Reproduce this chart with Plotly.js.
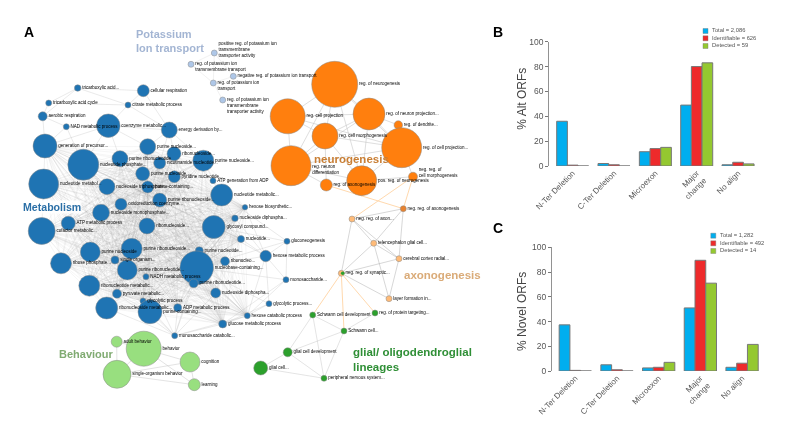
<!DOCTYPE html>
<html><head><meta charset="utf-8">
<script src="https://cdn.plot.ly/plotly-3.0.1.min.js"></script>
<style>html,body{margin:0;padding:0;background:#fff}#g{width:800px;height:432px;filter:blur(0.3px)}</style>
</head><body><div id="g"></div>
<script>
// ---------- bar charts ----------
const categories = ['N-Ter Deletion','C-Ter Deletion','Microexon','Major<br>change','No align'];
const altTotal = [36,2,11.5,49,1];
const altIdentifiable = [0.7,1,14,80,3];
const altDetected = [0,0,15,83,1.7];
const novelTotal = [37.3,5,2.5,51,3];
const novelIdentifiable = [0.5,1,3,89.5,6.3];
const novelDetected = [0,0,7,71,21.5];
const altLegend = ['Total = 2,086','Identifiable = 626','Detected = 59'];
const novelLegend = ['Total = 1,282','Identifiable = 492','Detected = 14'];
const yTicks = [0,20,40,60,80,100];
const barColors = ['#00AEEF','#EE2A2B','#94C830'];

// ---------- network nodes (position, diameter) ----------
const metaLabels = ['tricarboxylic acid...','cellular respiration','tricarboxylic acid cycle','citrate metabolic process','aerobic respiration','NAD metabolic process','coenzyme metabolic...','energy derivation by...','generation of precursor...','nucleotide phosphate...','purine nucleoside...','purine ribonucleotide','ribonucleoside...','nicotinamide nucleotide...','purine nucleoside...','nucleotide metabol...','purine nucleoside...','pyridine nucleotide...','ATP generation from ADP','nucleoside triphosphate...','purine-containing...','nucleotide metabolic...','purine ribonucleoside...','oxidoreduction coenzyme...','nucleoside monophosphate...','cofactor metabolic...','ATP metabolic process','ribonucleoside...','glycosyl compound...','nucleotide...','nucleoside diphospha...','hexose biosynthetic...','purine nucleoside','purine ribonucleoside...','purine nucleotide...','single organism...','ribose phosphate...','purine ribonucleotide...','nucleobase-containing...','ribonucleo...','NADH metabolic process','purine ribonucleotide...','ribonucleotide metabolic...','pyruvate metabolic...','nucleoside diphospha...','glycolytic process','ribonucleoside metabolic...','purine-containing...','ADP metabolic process','hexose catabolic process','glucose metabolic process','monosaccharide catabolic...','gluconeogenesis','hexose metabolic process','monosaccharide...','glycolytic process...'];
const metaX = [77.7,143.3,48.7,128,42.7,66.3,108.3,169.3,45,83.3,147.7,120,174,159.7,203.3,43.7,142.7,174.3,213,107,147.7,221.7,159.7,121,101,41.7,68.3,147,213.7,241,235,245,90.3,131.7,199.3,115,61,127.3,196.7,225,146,193.7,89.3,117,215.7,143,106.7,150,177.7,247.3,222.7,174.7,287,265.7,286,269];
const metaY = [88,90.7,103,105,116.3,126.7,125.7,130,146,164.7,146.7,158.7,153.7,163,160.7,184,173.7,176.7,180.7,186.7,187,195,200,204.3,212.7,231,223.3,226,227,239,218.3,207.3,252,248.7,250.7,260,263.3,270,267.7,261.3,276.7,283.3,285.7,293.7,293,301,308,311.7,307.7,315.7,324,335.7,241.3,256,279.7,303.7];
const metaD = [6.5,12,6,6,9,6,23.5,16,24,31,16,16,14,12,21,30,14,12,6,16,12,22,14,12,17,27,14,16,23,7,6.5,5.5,20,21,8,8,21,20,33.5,9,6,9,21,9,10,6,22,24,8,6,8,6,6,11.5,6,6];
const behavLabels = ['adult behavior','behavior','cognition','single-organism behavior','learning'];
const behavX = [116.7,143.7,190,117,194.3];
const behavY = [341.7,348.7,362,374.3,384.7];
const behavD = [11,35,20,28,12];
const potLabels = ['positive reg. of potassium ion<br>transmembrane<br>transporter activity','reg. of potassium ion<br>transmembrane transport','negative reg. of potassium ion transport','reg. of potassium ion<br>transport','reg. of potassium ion<br>transmembrane<br>transporter activity'];
const potX = [214.3,191,233.3,213.3,222.7];
const potY = [53,64.3,76.3,83,100];
const potD = [6,6,6,6,6];
const potLabelShift = [-3,2.9,0,2.9,5.8];
const neuroLabels = ['reg. of neurogenesis','reg. cell projection','reg. of neuron projection...','reg. of dendrite...','reg. cell morphogenesis','reg. of cell projection...','reg. neuron<br>differentiation','pos. reg. of neurogenesis','reg. of axonogenesis','neg. reg. of<br>cell morphogenesis'];
const neuroX = [334.7,287.7,369,398.3,325,401.7,291,361.7,326.3,413];
const neuroY = [84.3,116.3,114,125,136,147.7,165.7,180.7,185,176.7];
const neuroD = [46,35,32,8.5,26,40,40,30,12,9];
const neuroLabelShift = [0,0,0,0,0,0,4,0,0,-4];
const axonLabels = ['neg. reg. of axonogenesis','neg. reg. of axon...','telencephalon glial cell...','cerebral cortex radial...','neg. reg. of synaptic...','layer formation in...'];
const axonX = [403.3,352,373.7,399,341.3,389];
const axonY = [208.7,219,243.3,258.7,273.3,298.7];
const axonD = [6,6,6,6,6,6];
const axonColors = ['#E8822E','#FFBB78','#FFBB78','#FFBB78','#FFBB78','#FFBB78'];
const glialLabels = ['reg. of protein targeting...','Schwann cell development','Schwann cell...','glial cell development','glial cell...','peripheral nervous system...'];
const glialX = [375,312.7,344,287.7,260.7,324];
const glialY = [313,315,331,352.3,368,378.3];
const glialD = [6,6,6,9,14,6];

// ---------- network links (pairs of node numbers) ----------
const metaLinks = [[0,1],[0,2],[0,3],[0,4],[1,3],[1,7],[2,3],[2,4],[3,7],[3,6],[4,5],[4,8],[5,6],[5,8],[5,9],[6,7],[6,8],[6,9],[6,10],[6,11],[7,10],[7,12],[7,14],[7,13],
 [51,47],[51,48],[51,50],[51,49],[51,45],[51,38],[51,43],[51,41],[51,44],[51,46],[51,40],
 [52,53],[52,54],[52,38],[52,28],[52,21],[53,54],[53,29],[53,28],[53,38],[53,49],[53,55],[54,38],[54,50],[54,49],[55,50],[55,49],[55,38],[31,53],[31,38],[31,28],[31,21],[30,38],[30,53],[29,38],[29,28],[49,38],[49,50],[50,38],[50,44]];
const coreStart = 8, coreEnd = 50;
const behavLinks = [[0,1],[0,3],[1,3],[1,2],[1,4],[3,2],[3,4],[2,4]];
const potLinks = [[0,1],[0,3],[1,3],[2,3],[3,4],[0,2]];
const neuroLinks = [[0,1],[0,2],[0,4],[0,5],[0,6],[1,2],[1,4],[1,6],[2,4],[2,3],[2,5],[3,5],[4,5],[4,6],[4,7],[4,8],[5,6],[5,7],[5,9],[6,7],[6,8],[7,8],[7,9],[1,5],[2,6],[2,7],[0,7]];
const axonLinks = [[0,1],[0,2],[0,3],[1,2],[1,4],[2,3],[2,4],[3,4],[3,5],[4,5],[1,3],[2,5]];
const glialLinks = [[0,2],[1,2],[1,3],[1,5],[2,3],[2,5],[3,4],[3,5],[4,5]];
const neuroToAxon = [[8,0],[9,0],[9,1]];
const axonToGlial = [[4,1],[4,2],[4,0]];

// ---------- text ----------
const clusterTitles = ['Potassium<br>Ion transport','Metabolism','neurogenesis','axonogenesis','glial/ oligodendroglial<br>lineages','Behaviour'];
const clusterX = [135,22,313,403,352,58];
const clusterY = [41,206.5,159,275,359,354];
const clusterSize = [11,10.6,11.5,11.5,11.5,11];
const clusterColors = ['#A3B5D3','#2B6FA6','#C97F35','#DAAB78','#2F8F36','#80AB72'];
const panelLetters = ['A','B','C'];
const panelX = [29,497.5,497.5];
const panelY = [32,31.7,227.7];
const axisTitles = ['% Alt ORFs','% Novel ORFs'];
const axisTitleX = [522,522];
const axisTitleY = [98.7,312];

const FONT = '"Liberation Sans", Arial, sans-serif';
const ov = {xaxis:'x3',yaxis:'y3',hoverinfo:'skip',showlegend:false,cliponaxis:false};
function edge(links,xa,ya,a0,xb,yb,color,w){
  const X=[],Y=[];
  links.forEach(l=>{X.push(xa[l[0]],xb[l[1]],null);Y.push(ya[l[0]],yb[l[1]],null);});
  return Object.assign({type:'scatter',mode:'lines',x:X,y:Y,line:{color:color,width:w}},ov);
}
function nodes(xs,ys,ds,color){
  return Object.assign({type:'scatter',mode:'markers',x:xs,y:ys,
    marker:{size:ds,color:color,line:{color:'#8a8a8a',width:0.5},opacity:1}},ov);
}
function labels(txt,xs,ys,ds,shift){
  return Object.assign({type:'scatter',mode:'text',x:xs.map((v,i)=>v+ds[i]/2+1.2),y:ys.map((v,i)=>v+(shift?shift[i]:0)),text:txt,textposition:'middle right',
    textfont:{family:FONT,size:4.5,color:'#000'}},ov);
}
const coreLinks=[];
for(let i=coreStart;i<=coreEnd;i++)for(let j=i+1;j<=coreEnd;j++){ if(i!==18&&j!==18) coreLinks.push([i,j]); }
const GL='rgba(190,190,190,0.55)', OR='#FFD9AE';

const data=[
 edge(coreLinks,metaX,metaY,0,metaX,metaY,'rgba(140,140,140,0.2)',0.4),
 edge(metaLinks,metaX,metaY,0,metaX,metaY,GL,0.6),
 edge(behavLinks,behavX,behavY,0,behavX,behavY,GL,0.8),
 edge(potLinks,potX,potY,0,potX,potY,'rgba(200,200,200,0.5)',0.5),
 edge(neuroLinks,neuroX,neuroY,0,neuroX,neuroY,'rgba(190,190,190,0.5)',1),
 edge(axonLinks,axonX,axonY,0,axonX,axonY,'rgba(170,170,170,0.6)',0.8),
 edge(glialLinks,glialX,glialY,0,glialX,glialY,'rgba(190,190,190,0.6)',0.7),
 edge(neuroToAxon,neuroX,neuroY,0,axonX,axonY,OR,1),
 edge(axonToGlial,axonX,axonY,0,glialX,glialY,OR,1),
 nodes(metaX,metaY,metaD,'#1F74B3'),
 nodes(behavX,behavY,behavD,'#98DF7F'),
 nodes(potX,potY,potD,'#AEC7E8'),
 nodes(neuroX,neuroY,neuroD,'#FF7F0E'),
 nodes(axonX,axonY,axonD,axonColors),
 nodes(glialX,glialY,glialD,'#2CA02C')
];
// green half of the shared node
data.push(Object.assign({type:'scatter',mode:'markers',x:[axonX[4]+1.4],y:[axonY[4]],marker:{size:3.6,color:'#2CA02C'}},ov));
data.push(labels(metaLabels,metaX,metaY,metaD),labels(behavLabels,behavX,behavY,behavD),labels(potLabels,potX,potY,potD,potLabelShift),
  labels(neuroLabels,neuroX,neuroY,neuroD,neuroLabelShift),labels(axonLabels,axonX,axonY,axonD),labels(glialLabels,glialX,glialY,glialD));

function bars(vals,name,i,xa,ya){
  return {type:'bar',x:categories.map((c,k)=>k),y:vals,name:name,xaxis:xa,yaxis:ya,
    marker:{color:barColors[i],line:{color:'#777',width:1}},hoverinfo:'skip',showlegend:false};
}
[[altTotal,altIdentifiable,altDetected],[novelTotal,novelIdentifiable,novelDetected]].forEach((g,p)=>{
  g.forEach((v,i)=>data.push(bars(v,(p?novelLegend:altLegend)[i],i,p?'x2':'x',p?'y2':'y')));
});
function legendMarks(txt,x,ys,tx){
  data.push(Object.assign({type:'scatter',mode:'markers',x:txt.map(()=>x),y:ys,
    marker:{symbol:'square',size:5,color:barColors,line:{color:'#777',width:0.4}}},ov));
  data.push(Object.assign({type:'scatter',mode:'text',x:txt.map(()=>tx),y:ys,text:txt,textposition:'middle right',
    textfont:{family:FONT,size:5.8,color:'#555'}},ov));
}
const altLegendX=705.5, altLegendTextX=712, altLegendY=[31,38.3,46], novelLegendX=713.3, novelLegendTextX=720, novelLegendY=[235.7,243.3,251];
legendMarks(altLegend,altLegendX,altLegendY,altLegendTextX);
legendMarks(novelLegend,novelLegendX,novelLegendY,novelLegendTextX);

const ann=[];
clusterTitles.forEach((t,i)=>ann.push({xref:'x3',yref:'y3',x:clusterX[i],y:clusterY[i],text:'<b>'+t+'</b>',showarrow:false,xanchor:'left',align:'left',yanchor:'middle',
  font:{family:FONT,size:clusterSize[i],color:clusterColors[i]},bgcolor:i===1?'rgba(255,255,255,0.85)':'rgba(0,0,0,0)',borderpad:0}));
panelLetters.forEach((t,i)=>ann.push({xref:'x3',yref:'y3',x:panelX[i],y:panelY[i],text:'<b>'+t+'</b>',showarrow:false,font:{family:FONT,size:14,color:'#000'}}));
axisTitles.forEach((t,i)=>ann.push({xref:'x3',yref:'y3',x:axisTitleX[i],y:axisTitleY[i],text:t,textangle:-90,showarrow:false,font:{family:FONT,size:12,color:'#444'}}));

function yax(dom,anchor){return {domain:dom,range:[0,100],tickvals:yTicks,ticks:'outside',ticklen:3,tickcolor:'#777',showline:true,linecolor:'#777',linewidth:0.8,
  zeroline:false,showgrid:false,tickfont:{family:FONT,size:8.5,color:'#555'},anchor:anchor,fixedrange:true};}
function xax(dom,rng,anchor){return {domain:dom,range:rng,type:'linear',tickvals:categories.map((c,k)=>k),ticktext:categories,tickangle:-45,ticks:'',ticklen:0,showline:false,zeroline:false,showgrid:false,
  tickfont:{family:FONT,size:8,color:'#555'},anchor:anchor,fixedrange:true};}
const layout={width:800,height:432,margin:{l:0,r:0,t:0,b:0},paper_bgcolor:'#fff',plot_bgcolor:'rgba(0,0,0,0)',barmode:'group',bargap:0.226,bargroupgap:0,hovermode:false,showlegend:false,
  font:{family:FONT},
  xaxis:xax([549/800,755/800],[-0.573,4.41],'y'),
  yaxis:yax([1-166/432,1-41.7/432],'x'),
  xaxis2:xax([551.7/800,760/800],[-0.566,4.43],'y2'),
  yaxis2:yax([1-371/432,1-247.3/432],'x2'),
  xaxis3:{domain:[0,1],range:[0,800],visible:false,fixedrange:true,anchor:'y3'},
  yaxis3:{domain:[0,1],range:[432,0],visible:false,fixedrange:true,anchor:'x3'},
  annotations:ann};
Plotly.newPlot('g',data,layout,{staticPlot:true,displayModeBar:false});
</script></body></html>
